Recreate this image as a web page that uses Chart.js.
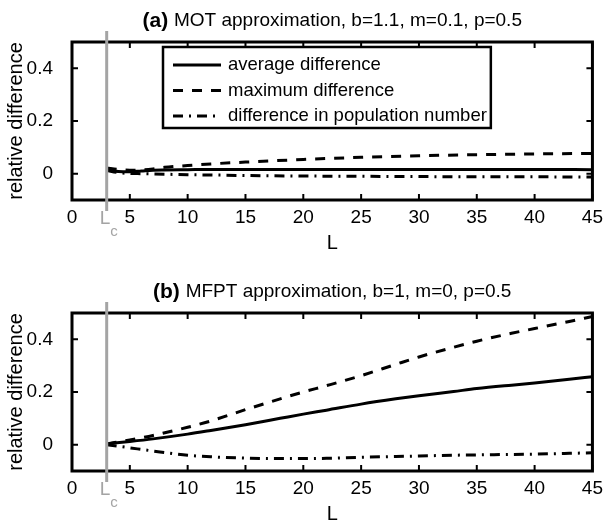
<!DOCTYPE html>
<html>
<head>
<meta charset="utf-8">
<script src="https://cdn.jsdelivr.net/npm/chart.js@4.4.1/dist/chart.umd.min.js"></script>
<style>
  html, body { margin: 0; padding: 0; background: #fff; }
  #wrap { position: relative; width: 609px; height: 526px; overflow: hidden; }
  .panel { position: absolute; left: 0; width: 609px; height: 255px; }
  #pa { top: 0; }
  #pb { top: 271px; }
</style>
</head>
<body>
<div id="wrap">
  <div class="panel" id="pa"><canvas id="ca" width="609" height="255"></canvas></div>
  <div class="panel" id="pb"><canvas id="cb" width="609" height="255"></canvas></div>
</div>
<script>
const FONT = "'Liberation Sans', Arial, Helvetica, sans-serif";

// Axis ticks shared by both panels
const xTickValues = [0, 5, 10, 15, 20, 25, 30, 35, 40, 45];
const yTickValues = [0, 0.2, 0.4];
const Lc = 3;

const seriesNames = ['average difference', 'maximum difference', 'difference in population number'];

// Panel (a): MOT approximation
const titleA = ['(a)', 'MOT approximation, b=1.1, m=0.1, p=0.5'];
const lengthsA = [3, 4, 5, 6, 7, 8, 10, 12, 15, 20, 25, 30, 35, 40, 45];
const avgA     = [0.016, 0.008, 0.007, 0.010, 0.013, 0.014, 0.015, 0.016, 0.016, 0.016, 0.016, 0.016, 0.016, 0.016, 0.015];
const maxA     = [0.022, 0.016, 0.013, 0.014, 0.018, 0.024, 0.031, 0.037, 0.044, 0.054, 0.062, 0.068, 0.072, 0.075, 0.077];
const popA     = [0.012, 0.004, 0.001, 0.000, -0.001, -0.002, -0.004, -0.005, -0.007, -0.009, -0.010, -0.011, -0.012, -0.012, -0.013];

// Panel (b): MFPT approximation
const titleB = ['(b)', 'MFPT approximation, b=1, m=0, p=0.5'];
const lengthsB = [3, 5, 7, 10, 12, 15, 18, 20, 22, 25, 28, 30, 33, 35, 38, 40, 43, 45];
const avgB     = [0.003, 0.012, 0.022, 0.040, 0.054, 0.076, 0.100, 0.116, 0.131, 0.154, 0.174, 0.186, 0.202, 0.213, 0.226, 0.234, 0.248, 0.258];
const maxB     = [0.003, 0.018, 0.035, 0.066, 0.090, 0.133, 0.174, 0.200, 0.224, 0.262, 0.305, 0.333, 0.370, 0.393, 0.423, 0.441, 0.468, 0.487];
const popB     = [0.000, -0.012, -0.024, -0.040, -0.046, -0.051, -0.053, -0.053, -0.052, -0.048, -0.045, -0.043, -0.040, -0.039, -0.037, -0.036, -0.033, -0.031];

const dashStyles = [[], [10, 9], [10, 6, 2, 6]];

// Title with a bold panel tag followed by plain text
const panelTitle = {
  id: 'panelTitle',
  afterDraw(chart, args, opts) {
    const { ctx, chartArea: a } = chart;
    const [tag, rest] = opts.text;
    const fb = `bold 21px ${FONT}`, fn = `19px ${FONT}`;
    ctx.save();
    ctx.font = fb; const w1 = ctx.measureText(tag + ' ').width;
    ctx.font = fn; const w2 = ctx.measureText(rest).width;
    const x0 = (a.left + a.right) / 2 - (w1 + w2) / 2;
    const y0 = a.top - 21;
    ctx.textBaseline = 'middle'; ctx.textAlign = 'left'; ctx.fillStyle = '#000';
    ctx.font = fb; ctx.fillText(tag, x0, y0);
    ctx.font = fn; ctx.fillText(rest, x0 + w1, y0);
    ctx.restore();
  }
};

// Boxed frame with inward tick marks on all four sides
const frame = {
  id: 'frame',
  afterDatasetsDraw(chart) {
    const { ctx, chartArea: a, scales: { x, y } } = chart;
    const tl = 6;
    ctx.save();
    ctx.strokeStyle = '#000';
    ctx.lineWidth = 2;
    ctx.beginPath();
    x.ticks.forEach(t => {
      const px = x.getPixelForValue(t.value);
      ctx.moveTo(px, a.bottom); ctx.lineTo(px, a.bottom - tl);
      ctx.moveTo(px, a.top); ctx.lineTo(px, a.top + tl);
    });
    y.ticks.forEach(t => {
      const py = y.getPixelForValue(t.value);
      ctx.moveTo(a.left, py); ctx.lineTo(a.left + tl, py);
      ctx.moveTo(a.right, py); ctx.lineTo(a.right - tl, py);
    });
    ctx.stroke();
    ctx.lineWidth = 3;
    ctx.strokeRect(a.left, a.top, a.width, a.height);
    ctx.restore();
  }
};

// Legend inside a bordered box
const boxLegend = {
  id: 'boxLegend',
  afterDatasetsDraw(chart, args, opts) {
    if (!opts.display) return;
    const { ctx, chartArea: a } = chart;
    const left = a.left + 91, top = a.top + 5, rowH = 25.5, sample = 48, gap = 7;
    ctx.save();
    ctx.font = `18.5px ${FONT}`;
    const sets = chart.data.datasets;
    const tw = Math.max(...sets.map(d => ctx.measureText(d.label).width));
    const w = 10 + sample + gap + tw + 4, h = 81;
    ctx.fillStyle = '#fff'; ctx.fillRect(left, top, w, h);
    ctx.strokeStyle = '#000'; ctx.lineWidth = 2.5; ctx.strokeRect(left, top, w, h);
    sets.forEach((d, i) => {
      const cy = top + 18 + i * rowH;
      ctx.setLineDash(d.borderDash || []);
      ctx.lineWidth = d.borderWidth;
      ctx.beginPath(); ctx.moveTo(left + 10, cy); ctx.lineTo(left + 10 + sample, cy); ctx.stroke();
      ctx.setLineDash([]);
      ctx.fillStyle = '#000'; ctx.textBaseline = 'middle'; ctx.textAlign = 'left';
      ctx.fillText(d.label, left + 10 + sample + gap, cy);
    });
    ctx.restore();
  }
};

// Grey marker for the critical length L_c
const lcMarker = {
  id: 'lcMarker',
  afterDraw(chart, args, opts) {
    const { ctx, chartArea: a, scales: { x } } = chart;
    const px = x.getPixelForValue(opts.value);
    ctx.save();
    ctx.strokeStyle = '#a4a4a4';
    ctx.lineWidth = 3;
    ctx.beginPath(); ctx.moveTo(px, a.top - 11); ctx.lineTo(px, a.bottom + 11); ctx.stroke();
    ctx.fillStyle = '#a4a4a4';
    ctx.textBaseline = 'middle'; ctx.textAlign = 'left';
    ctx.font = `19px ${FONT}`;
    ctx.fillText('L', px - 7, a.bottom + 18.5);
    ctx.font = `15px ${FONT}`;
    ctx.fillText('c', px + 3.5, a.bottom + 32);
    ctx.restore();
  }
};

function makeChart(id, title, L, avg, mx, pop, withLegend) {
  const series = [avg, mx, pop];
  return new Chart(document.getElementById(id), {
    type: 'line',
    data: {
      datasets: series.map((vals, k) => ({
        label: seriesNames[k],
        data: L.map((v, i) => ({ x: v, y: vals[i] })),
        borderColor: '#000',
        borderWidth: 3,
        borderDash: dashStyles[k],
        pointRadius: 0,
        fill: false,
        cubicInterpolationMode: 'monotone'
      }))
    },
    options: {
      responsive: false,
      animation: false,
      devicePixelRatio: 1,
      layout: { padding: { top: 42, right: 9, left: 0, bottom: 0 } },
      plugins: {
        legend: { display: false },
        tooltip: { enabled: false },
        panelTitle: { text: title },
        boxLegend: { display: withLegend },
        lcMarker: { value: Lc }
      },
      scales: {
        x: {
          type: 'linear', min: 0, max: 45,
          grid: { display: false, drawTicks: false },
          border: { display: false },
          ticks: { font: { family: FONT, size: 19 }, color: '#000', padding: 6, maxRotation: 0, autoSkip: false },
          afterBuildTicks: s => { s.ticks = xTickValues.map(v => ({ value: v })); },
          afterFit: s => { s.height = 55; },
          title: { display: true, text: 'L', font: { family: FONT, size: 20 }, color: '#000', padding: { top: 0, bottom: 0 } }
        },
        y: {
          type: 'linear', min: -0.1, max: 0.5,
          grid: { display: false, drawTicks: false },
          border: { display: false },
          ticks: { font: { family: FONT, size: 19 }, color: '#000', padding: 19, callback: v => String(v) },
          afterBuildTicks: s => { s.ticks = yTickValues.map(v => ({ value: v })); },
          afterFit: s => { s.width = 72; },
          title: { display: true, text: 'relative difference', font: { family: FONT, size: 20 }, color: '#000', padding: { top: 4, bottom: 0 } }
        }
      }
    },
    plugins: [panelTitle, frame, boxLegend, lcMarker]
  });
}

makeChart('ca', titleA, lengthsA, avgA, maxA, popA, true);
makeChart('cb', titleB, lengthsB, avgB, maxB, popB, false);
</script>
</body>
</html>
